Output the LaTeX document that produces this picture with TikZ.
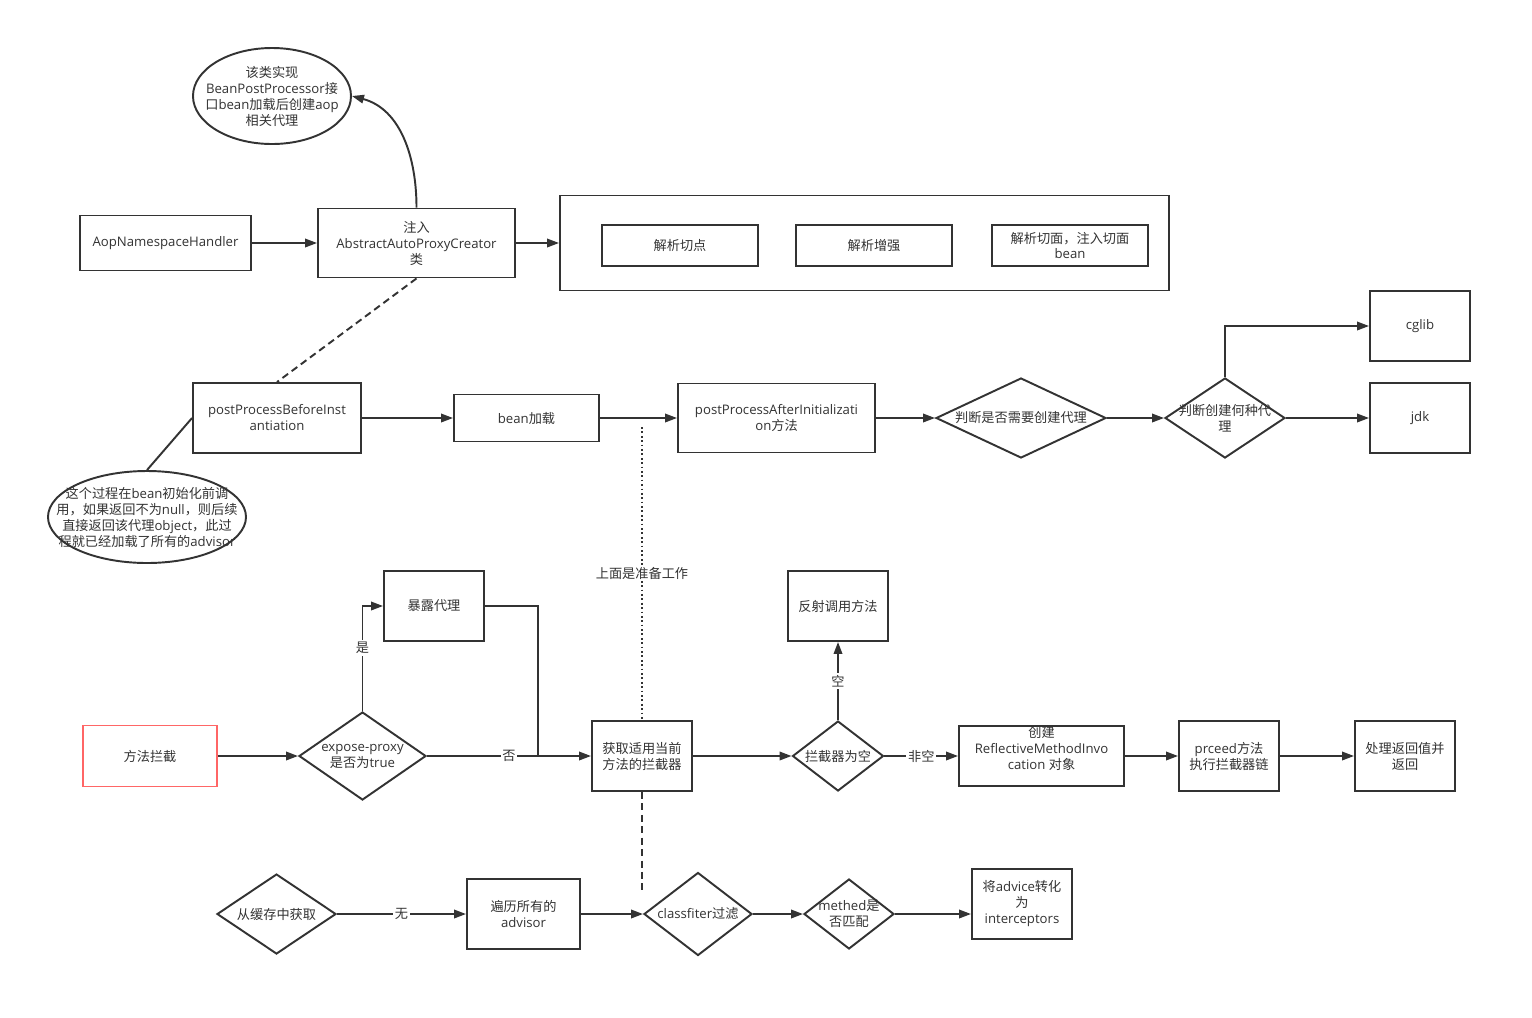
\documentclass[tikz,border=0pt]{standalone}
\usepackage{fontspec}
\setmainfont{Open Sans}
\newfontfamily\cjk{Noto Sans CJK SC}
\newcommand{\zh}[1]{{\cjk #1}}
\usepackage{tikz}
\usetikzlibrary{shapes.geometric, arrows.meta, positioning}
\definecolor{linegray}{HTML}{333333}
\definecolor{redline}{HTML}{FF6666}
\tikzset{
    process/.style={rectangle, draw=linegray, line width=1.1pt, fill=white, align=center, inner sep=2pt},
    decision/.style={diamond, draw=linegray, line width=1.1pt, fill=white, inner sep=0pt},
    note/.style={ellipse, draw=linegray, line width=1.1pt, fill=white, inner sep=0pt},
    txt/.style={text=linegray, align=center},
    arrow/.style={draw=linegray, line width=1.1pt, -{Triangle[length=2.4mm,width=1.7mm]}},
    link/.style={draw=linegray, line width=1.1pt},
    lbl/.style={fill=white, text=linegray, inner sep=1pt}
}

\begin{document}
\begin{tikzpicture}[x=0.2mm, y=-0.2mm, font=\fontsize{7.5}{9.1}\selectfont, text=linegray]
    \useasboundingbox (0,0) rectangle (1532,1017);

    % Preparation: namespace handler and proxy creator
    \node[note, minimum width=31.6mm, minimum height=19.2mm, label={[txt]center:{\zh{该类实现}\\BeanPostProcessor\zh{接}\\\zh{口}bean\zh{加载后创建}aop\\\zh{相关代理}}}] (note1) at (272,96) {};
    \node[process, minimum width=34.2mm, minimum height=11mm] (handler) at (165.5,243) {AopNamespaceHandler};
    \node[process, minimum width=39.4mm, minimum height=13.8mm] (creator) at (416.5,243) {\zh{注入}\\AbstractAutoProxyCreator\\\zh{类}};
    \node[process, minimum width=121.8mm, minimum height=19mm] (parse) at (864.5,243) {};
    \node[process, minimum width=31.2mm, minimum height=8.2mm] (pointcut) at (680,245.5) {\zh{解析切点}};
    \node[process, minimum width=31.2mm, minimum height=8.2mm] (enhance) at (874,245.5) {\zh{解析增强}};
    \node[process, minimum width=31.2mm, minimum height=8.2mm] (aspect) at (1070,245.5) {\zh{解析切面，注入切面}\\bean};

    \path (handler.east) edge[arrow] (creator.west);
    \path (creator.east) edge[arrow] (parse.west);
    \path (creator.north) edge[arrow, out=90, in=-15] (note1.east);

    % Bean loading and proxy creation
    \node[process, minimum width=33.6mm, minimum height=14mm] (before) at (277,418) {postProcessBeforeInst\\antiation};
    \node[process, minimum width=29mm, minimum height=9.4mm] (load) at (526.5,418) {bean\zh{加载}};
    \node[process, minimum width=39.4mm, minimum height=13.8mm] (after) at (776.5,418) {postProcessAfterInitializati\\on\zh{方法}};
    \node[decision, minimum width=34mm, minimum height=16mm, label={[txt]center:{\zh{判断是否需要创建代理}}}] (need) at (1021,418) {};
    \node[decision, minimum width=24mm, minimum height=16mm, label={[txt]center:{\zh{判断创建何种代}\\\zh{理}}}] (which) at (1225,418) {};
    \node[process, minimum width=20mm, minimum height=14mm] (cglib) at (1420,326) {cglib};
    \node[process, minimum width=20mm, minimum height=14mm] (jdk) at (1420,418) {jdk};
    \node[note, minimum width=39.6mm, minimum height=18.4mm, label={[txt]center:{\zh{这个过程在}bean\zh{初始化前调}\\\zh{用，如果返回不为}null\zh{，则后续}\\\zh{直接返回该代理}object\zh{，此过}\\\zh{程就已经加载了所有的}advisor}}] (note2) at (147,517) {};

    \path (creator.south) edge[link, dash pattern=on 4pt off 2.5pt] (before.north);
    \path (before.west) edge[link] (note2.north);
    \path (before.east) edge[arrow] (load.west);
    \path (load.east) edge[arrow] (after.west);
    \path (after.east) edge[arrow] (need.west);
    \path (need.east) edge[arrow] (which.west);
    \path (which.east) edge[arrow] (jdk.west);
    \draw[arrow] (which.north) |- (cglib.west);

    % Separator
    \coordinate (dottop) at (642,427);
    \coordinate (dashend) at (642,893);

    % Method interception
    \node[process, draw=redline, minimum width=26.8mm, minimum height=12.2mm] (intercept) at (150,756) {\zh{方法拦截}};
    \node[decision, minimum width=25.4mm, minimum height=17.6mm, label={[txt]center:{expose-proxy\\\zh{是否为}true}}] (expose) at (362.5,756) {};
    \node[process, minimum width=20mm, minimum height=14mm] (exposebox) at (434,606) {\zh{暴露代理}};
    \node[process, minimum width=20mm, minimum height=14mm] (getint) at (642,756) {\zh{获取适用当前}\\\zh{方法的拦截器}};
    \node[decision, minimum width=18.2mm, minimum height=14mm, label={[txt]center:{\zh{拦截器为空}}}] (empty) at (838,756) {};
    \node[process, minimum width=20mm, minimum height=14mm] (reflect) at (838,606) {\zh{反射调用方法}};
    \node[process, minimum width=33mm, minimum height=12mm, label={[txt, yshift=1.6mm]center:{\zh{创建}\\ReflectiveMethodInvo\\cation \zh{对象}}}] (invoc) at (1041.5,756) {};
    \node[process, minimum width=20mm, minimum height=14mm] (proceed) at (1229,756) {prceed\zh{方法}\\\zh{执行拦截器链}};
    \node[process, minimum width=20mm, minimum height=14mm] (result) at (1405,756) {\zh{处理返回值并}\\\zh{返回}};
    \coordinate (join) at (538,756);

    \path (intercept.east) edge[arrow] (expose.west);
    \draw[arrow] (expose.north) |- node[lbl, pos=0.3] {\zh{是}} (exposebox.west);
    \draw[link] (exposebox.east) -| (join);
    \path (expose.east) edge[arrow] node[lbl] {\zh{否}} (getint.west);
    \path (getint.east) edge[arrow] (empty.west);
    \path (empty.north) edge[arrow] node[lbl] {\zh{空}} (reflect.south);
    \path (empty.east) edge[arrow] node[lbl] {\zh{非空}} (invoc.west);
    \path (invoc.east) edge[arrow] (proceed.west);
    \path (proceed.east) edge[arrow] (result.west);

    \path (dottop) edge[link, line width=0.8pt, dash pattern=on 1pt off 1.5pt] node[lbl] {\zh{上面是准备工作}} (getint.north);
    \path (getint.south) edge[link, dash pattern=on 4pt off 2.5pt] (dashend);

    % Getting the interceptors
    \node[decision, minimum width=23.8mm, minimum height=16mm, label={[txt]center:{\zh{从缓存中获取}}}] (cache) at (276.5,914) {};
    \node[process, minimum width=22.6mm, minimum height=14mm] (advisors) at (523.5,914) {\zh{遍历所有的}\\advisor};
    \node[decision, minimum width=21.6mm, minimum height=16.6mm, label={[txt]center:{classfiter\zh{过滤}}}] (classf) at (698,914) {};
    \node[decision, minimum width=18mm, minimum height=14mm, label={[txt]center:{methed\zh{是}\\\zh{否匹配}}}] (match) at (849,914) {};
    \node[process, minimum width=20mm, minimum height=14mm] (convert) at (1022,904) {\zh{将}advice\zh{转化}\\\zh{为}\\interceptors};

    \path (cache.east) edge[arrow] node[lbl] {\zh{无}} (advisors.west);
    \path (advisors.east) edge[arrow] (classf.west);
    \path (classf.east) edge[arrow] (match.west);
    \path (match.east) edge[arrow] (match.east -| convert.west);

\end{tikzpicture}
\end{document}
